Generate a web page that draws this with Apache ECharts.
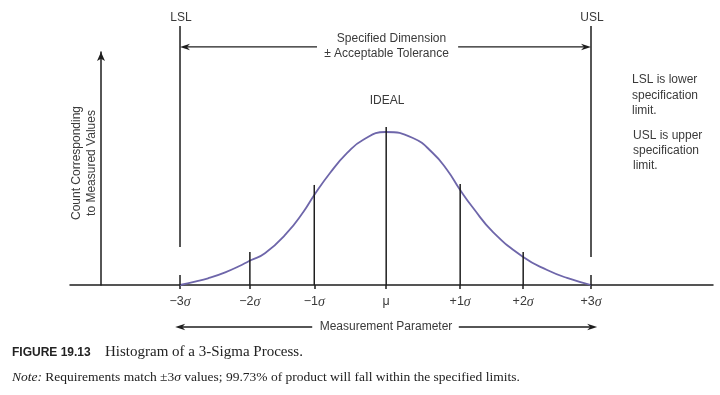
<!DOCTYPE html>
<html><head><meta charset="utf-8">
<script src="https://cdn.jsdelivr.net/npm/echarts@6/dist/echarts.min.js"></script>
<style>html,body{margin:0;padding:0;background:#fff}#c{width:720px;height:395px}</style>
</head><body><div id="c"></div>
<script>
// ---- data (x in sigma units, y as count with peak = 100) ----
const sigmaLabels = ['−3σ', '−2σ', '−1σ', 'μ', '+1σ', '+2σ', '+3σ'];
const sigmaPos = [-3, -1.98, -1.04, 0.01, 1.09, 2.01, 3];
const markerTops = [null, 21.6, 65.4, 103.3, 66, 21.6, null];

const curveX = [-3, -2.78, -2.59, -2.34, -2.1, -1.96, -1.76, -1.44, -1.2, -1.04, -0.81, -0.56, -0.33, 0, 0.4, 0.69, 0.9, 1.09, 1.28, 1.57, 2.01, 2.36, 2.65, 3];
const curveY = [0, 2.2, 4.4, 8.3, 13.1, 16.3, 20.7, 34, 47.7, 58.8, 73.2, 86.3, 94.8, 100, 96.1, 86.3, 75.2, 62.1, 50.3, 34.6, 18.3, 9.8, 4.6, 0];

const limitNames = ['LSL', 'USL'];
const limitPos = [-3, 3];
const limitLineBottom = [24.8, 18.3];
const limitLineTop = 169.3;
const limitFootTop = 6.5;

const dimArrowFrom = [-1.0, 1.06];
const dimArrowTo = [-3, 3];
const dimArrowY = 155.6;
const paramArrowFrom = [-1.07, 1.07];
const paramArrowTo = [-3.07, 3.09];
const paramArrowY = -27.45;

// ---- build ----
const curveData = curveX.map((x, i) => [x, curveY[i]]);
const segData = [];
sigmaPos.forEach((x, i) => { if (markerTops[i] != null) segData.push([x, 0, markerTops[i]]); });
limitPos.forEach((x, i) => {
  segData.push([x, limitLineBottom[i], limitLineTop]);
  segData.push([x, 0, limitFootTop]);
});
const arrowData = [];
dimArrowFrom.forEach((x, i) => arrowData.push([x, dimArrowTo[i], dimArrowY]));
paramArrowFrom.forEach((x, i) => arrowData.push([x, paramArrowTo[i], paramArrowY]));

const INK = '#1e1e1e';
const TXT = '#3a3a3a';
const SANS = '"Liberation Sans", Arial, sans-serif';
const SERIF = '"Liberation Serif", "Times New Roman", serif';

const chart = echarts.init(document.getElementById('c'), null, {renderer: 'canvas'});
chart.setOption({
  animation: false,
  backgroundColor: '#fff',
  grid: {left: 70, right: 7, top: 52, bottom: 110, containLabel: false},
  xAxis: {
    type: 'value', min: -4.606, max: 4.781,
    splitLine: {show: false},
    axisLine: {show: true, onZero: false, lineStyle: {color: INK, width: 1.5}},
    axisTick: {show: true, customValues: sigmaPos, length: 4, lineStyle: {color: INK, width: 1.5}},
    axisLabel: {
      show: true, customValues: sigmaPos, margin: 10,
      formatter: function (v) {
        let idx = 0, best = Infinity;
        sigmaPos.forEach((p, i) => { if (Math.abs(p - v) < best) { best = Math.abs(p - v); idx = i; } });
        const s = sigmaLabels[idx];
        if (s.endsWith('σ')) return '{n|' + s.slice(0, -1) + '}{s|σ}';
        return '{n|' + s + '}';
      },
      rich: {
        n: {fontFamily: SANS, fontSize: 12.5, color: TXT},
        s: {fontFamily: SERIF, fontStyle: 'italic', fontSize: 14, color: TXT}
      }
    }
  },
  yAxis: {
    type: 'value', min: 0, max: 152.3, position: 'left', offset: -31,
    splitLine: {show: false}, axisTick: {show: false}, axisLabel: {show: false},
    axisLine: {show: true, onZero: false, symbol: ['none', 'arrow'], symbolSize: [6, 9], lineStyle: {color: INK, width: 1.5}}
  },
  series: [
    {
      type: 'line', data: curveData, smooth: 0.5, showSymbol: false, symbol: 'none',
      lineStyle: {color: '#6e66aa', width: 1.8}, z: 2
    },
    {
      type: 'custom', data: segData, clip: false, z: 3,
      renderItem: function (params, api) {
        const x = api.value(0);
        const p1 = api.coord([x, api.value(1)]);
        const p2 = api.coord([x, api.value(2)]);
        return {type: 'line', shape: {x1: p1[0], y1: p1[1], x2: p2[0], y2: p2[1]}, style: {stroke: INK, lineWidth: 1.5}};
      }
    },
    {
      type: 'custom', data: arrowData, clip: false, z: 3,
      renderItem: function (params, api) {
        const y = api.value(2);
        const p1 = api.coord([api.value(0), y]);
        const p2 = api.coord([api.value(1), y]);
        const d = p2[0] > p1[0] ? 1 : -1;
        const tx = p2[0], ty = p2[1];
        return {
          type: 'group',
          children: [
            {type: 'line', shape: {x1: p1[0], y1: p1[1], x2: tx - d * 5, y2: ty}, style: {stroke: INK, lineWidth: 1.3}},
            {type: 'polygon', shape: {points: [[tx, ty], [tx - d * 10, ty - 3.2], [tx - d * 7, ty], [tx - d * 10, ty + 3.2]]}, style: {fill: INK}}
          ]
        };
      }
    }
  ],
  graphic: [
    {type: 'text', x: 181, y: 18, style: {text: limitNames[0], align: 'center', verticalAlign: 'middle', font: '12px ' + SANS, fill: TXT}},
    {type: 'text', x: 592, y: 18, style: {text: limitNames[1], align: 'center', verticalAlign: 'middle', font: '12px ' + SANS, fill: TXT}},
    {type: 'text', x: 391.5, y: 39, style: {text: 'Specified Dimension', align: 'center', verticalAlign: 'middle', font: '12px ' + SANS, fill: TXT}},
    {type: 'text', x: 386.5, y: 53.5, style: {text: '± Acceptable Tolerance', align: 'center', verticalAlign: 'middle', font: '12px ' + SANS, fill: TXT}},
    {type: 'text', x: 387, y: 101, style: {text: 'IDEAL', align: 'center', verticalAlign: 'middle', font: '12px ' + SANS, fill: TXT}},
    {type: 'text', x: 632, y: 72.5, style: {text: 'LSL is lower\nspecification\nlimit.', align: 'left', verticalAlign: 'top', font: '12px ' + SANS, lineHeight: 15.2, fill: TXT}},
    {type: 'text', x: 633, y: 128.2, style: {text: 'USL is upper\nspecification\nlimit.', align: 'left', verticalAlign: 'top', font: '12px ' + SANS, lineHeight: 15, fill: TXT}},
    {type: 'text', x: 84.5, y: 163, rotation: Math.PI / 2, style: {text: 'Count Corresponding\nto Measured Values', align: 'center', verticalAlign: 'middle', font: '12px ' + SANS, lineHeight: 15, fill: TXT}},
    {type: 'text', x: 386, y: 327, style: {text: 'Measurement Parameter', align: 'center', verticalAlign: 'middle', font: '12px ' + SANS, fill: TXT}},
    {type: 'text', x: 12, y: 353, style: {text: 'FIGURE 19.13', align: 'left', verticalAlign: 'middle', font: 'bold 12px ' + SANS, fill: '#222'}},
    {type: 'text', x: 105, y: 352, style: {text: 'Histogram of a 3-Sigma Process.', align: 'left', verticalAlign: 'middle', font: '15px ' + SERIF, fill: '#222'}},
    {type: 'text', x: 12, y: 377, style: {
      text: '{i|Note:} Requirements match ±3{i|σ} values; 99.73% of product will fall within the specified limits.',
      align: 'left', verticalAlign: 'middle', font: '13.5px ' + SERIF, fill: '#222',
      rich: {i: {fontStyle: 'italic', fontFamily: SERIF, fontSize: 13.5, fill: '#222'}}
    }}
  ]
});
</script></body></html>
